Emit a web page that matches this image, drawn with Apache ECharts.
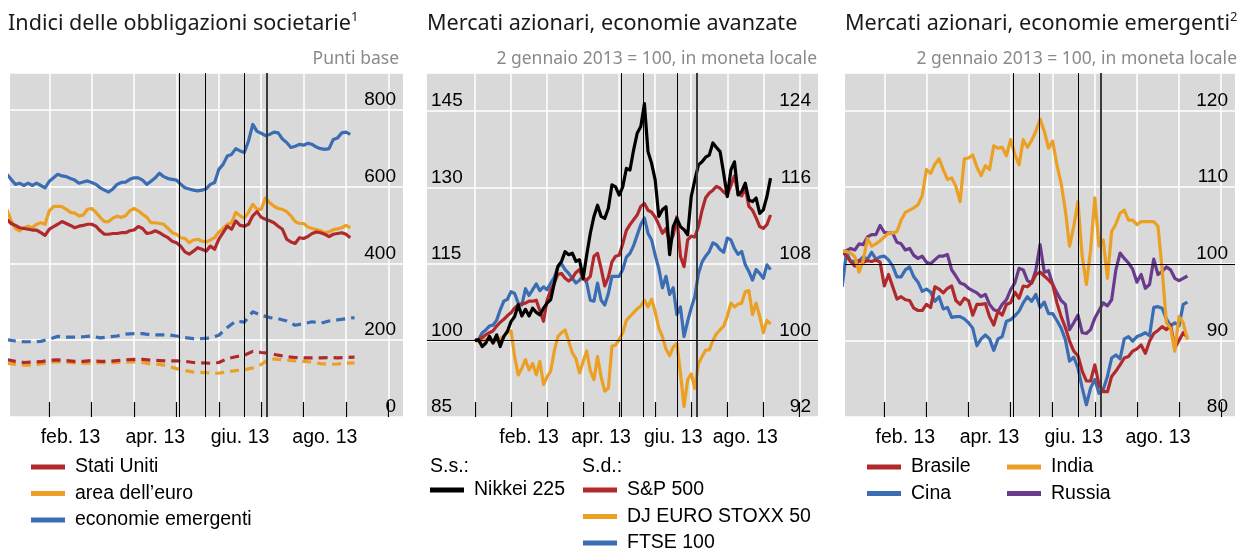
<!DOCTYPE html>
<html>
<head>
<meta charset="utf-8">
<script src="https://cdn.jsdelivr.net/npm/echarts@6/dist/echarts.min.js"></script>
<style>
  html, body { margin: 0; padding: 0; background: #fff; }
  #chart { width: 1244px; height: 548px; }
</style>
</head>
<body>
<div id="chart"></div>
<script>
// x unit = months since 1 Jan 2013 (1 = Feb 1, 2 = Mar 1, ...)
const monthTicks = [0, 1, 2, 3, 4, 5, 6, 7, 8, 9];
const monthLabelPos = [1.5, 3.5, 5.5, 7.5];
const monthLabels = ['feb. 13', 'apr. 13', 'giu. 13', 'ago. 13'];
const eventMonths = [4.07, 4.68, 5.6, 6.14];

// panel 1: corporate bond spreads (bp), solid every 0.1 month, dashed every 0.2 month
const usSolid = [515,504,499,493,491,489,487,487,480,473, 489,496,502,509,504,499,493,497,499,502,
  502,497,485,476,476,478,478,480,480,485, 487,496,491,478,480,485,480,473,467,458,
  454,445,430,424,432,441,437,432,445,437, 463,480,497,489,511,499,497,502,524,535,
  520,515,511,506,497,489,463,456,452,467, 465,470,478,482,480,476,470,476,478,480, 476,467];
const euroSolid = [541,511,491,485,493,497,493,502,506,502, 537,548,549,548,541,533,531,524,526,541,
  543,533,520,509,509,518,523,520,524,537, 543,537,528,520,506,506,504,502,491,480,
  476,467,465,454,461,463,458,456,461,467, 482,491,502,506,533,524,518,533,554,541,
  541,571,558,549,543,541,535,524,509,504, 504,495,491,488,485,480,482,488,490,493, 499,493];
const emSolid = [632,619,606,609,603,609,603,609,603,597, 614,623,632,628,626,621,617,609,612,615,
  611,606,597,591,586,594,606,611,612,619, 623,623,617,606,614,623,635,626,621,619,
  617,606,597,594,591,589,591,594,606,611, 645,658,680,684,699,693,689,719,762,744,
  739,733,736,742,740,724,715,702,705,710, 708,713,710,703,699,697,699,723,727,740, 742,736];
const usDash = [149,145,142,143,144,148,149,147,145,145, 147,145,145,147,149,150,150,148,147,146,
  146,145,142,141,140,142,152,157,161,171, 168,166,161,157,155,154,154,154,155,154, 155,156];
const euroDash = [140,137,135,135,138,142,144,143,141,140, 140,142,140,142,143,144,142,138,137,133,
  126,121,117,116,115,114,118,121,123,128, 137,152,150,148,146,145,143,139,137,138, 140,141];
const emDash = [201,198,196,196,197,203,210,208,208,209, 211,206,209,211,216,217,217,214,214,214,
  211,207,204,204,206,213,233,250,247,274, 265,259,256,250,239,243,248,244,250,253, 256,259];

// panel 2: advanced-economy equity indices, every 0.1 month
const nikkei = [100,100.1,98.8,99.5,100.8,99.5,101.1,98.8,100.8,101.8, 103.7,104.7,107.0,104.8,106.1,104.8,106.3,105.5,105.0,106.3,
  107.3,108.0,111.2,114.5,115.5,117.4,116.8,117.1,115.5,115.8, 112.2,116.8,121.0,124.3,126.5,124.3,123.9,125.9,130.5,130.1,
  128.5,130.1,133.7,133.4,137.3,140.6,141.9,146.4,137.0,134.7, 131.4,124.3,125.6,126.2,116.8,122.3,123.9,122.3,121.7,120.7,
  128.2,131.4,134.4,135.0,135.9,136.3,138.7,137.8,137.0,132.7, 128.2,133.4,135.0,128.5,129.2,130.8,127.5,127.2,127.9,124.9,
  125.6,128.2,131.8];
const sp500 = [100,100.1,100.3,100.6,100.8,101.0,101.5,101.9,102.2,102.6, 102.9,103.4,103.7,103.8,103.9,104.1,104.1,104.2,103.1,102.0,
  104.2,105.3,106.0,106.9,107.0,106.5,106.2,106.5,107.1,107.4, 106.4,106.3,106.7,108.8,109.1,107.5,105.7,106.6,108.2,108.8,
  108.9,110.1,111.5,112.1,112.6,113.1,114.0,114.3,113.6,113.4, 112.9,112.1,111.2,111.7,110.2,111.0,112.9,108.8,107.7,110.5,
  110.9,110.8,111.9,113.6,114.9,115.4,115.7,116.1,115.9,115.5, 115.2,116.2,117.2,115.3,115.1,115.9,114.0,113.6,112.8,111.9,
  111.7,112.1,113.1];
const stoxx50 = [100,99.9,100.0,100.1,100.1,99.8,100.0,100.2,100.4,100.8, 101.0,98.3,96.4,97.1,98.0,96.9,97.6,96.4,97.8,95.4,
  96.2,96.8,98.9,100.4,100.8,101.1,99.9,98.7,98.1,96.6, 97.8,98.9,96.8,95.9,98.3,96.2,94.7,95.0,99.4,99.5,
  100.1,100.8,102.1,102.5,102.9,103.3,103.6,104.2,103.5,104.3, 103.0,101.3,100.4,99.1,98.4,99.3,99.7,96.6,93.1,95.9,
  96.5,95.0,97.6,98.3,99.0,99.0,100.0,100.7,101.1,101.5, 102.5,103.9,103.5,103.8,103.9,105.1,105.2,102.7,103.9,102.5,
  100.8,102.1,101.7];
const ftse100 = [100,100.1,100.8,101.1,101.5,101.6,102.1,103.2,104.1,104.3, 105.1,104.9,103.9,103.7,105.4,104.7,105.3,105.9,105.2,105.6,
  105.3,106.0,106.6,107.7,108.0,107.4,107.0,106.5,106.0,106.3, 106.7,106.0,104.2,104.1,106.0,104.2,103.7,104.9,106.7,106.7,
  106.7,107.4,108.7,109.1,109.9,111.0,112.1,112.8,111.2,110.5, 108.9,107.5,105.5,106.7,104.8,105.5,102.7,103.5,100.4,102.0,
  103.4,104.6,107.0,108.2,108.8,109.3,110.2,110.0,109.5,109.2, 110.7,110.5,109.6,109.0,109.3,107.9,107.2,106.3,107.4,107.0,
  106.5,107.9,107.4];

// panel 3: emerging-market equity indices, every 0.1 month
const brasile = [101.6,101.0,100.3,99.7,100.4,100.2,100.4,100.3,100.5,100.2, 97.1,98.6,97.0,95.4,95.7,95.3,95.2,94.2,93.9,93.9,
  94.7,94.3,97.0,96.7,96.2,96.8,97.1,95.2,94.7,95.5, 95.2,93.3,94.7,94.7,94.8,93.1,92.0,93.8,93.3,94.7,
  94.9,96.3,95.5,97.1,97.0,97.5,98.6,98.9,98.4,97.9, 97.3,94.9,93.1,91.7,89.9,88.6,88.0,86.0,84.7,84.7,
  86.8,84.2,83.3,83.3,85.3,86.0,86.8,87.7,87.9,88.6, 88.9,89.4,88.3,89.9,90.9,91.3,91.8,91.4,92.0,89.0,
  90.0,91.0,90.4];
const cina = [97.0,101.5,100.3,100.3,100.4,100.9,100.6,101.5,100.6,100.9, 101.0,100.5,99.7,98.3,98.3,99.2,99.6,98.3,97.6,96.4,
  96.7,96.3,95.1,95.7,94.1,94.3,93.0,93.1,93.1,92.8, 92.3,91.6,89.3,90.2,90.7,90.2,88.7,90.2,90.5,92.5,
  92.7,93.2,93.8,94.9,95.7,95.1,96.0,94.3,95.0,93.5, 93.5,92.6,91.6,90.1,87.3,87.8,86.4,83.8,81.6,83.8,
  84.9,83.1,83.6,85.3,87.7,88.1,87.6,90.2,90.5,89.9, 90.5,90.7,91.0,90.6,94.3,94.4,94.2,92.8,91.9,92.3,
  91.9,94.7,95.0];
const india = [101.6,101.6,101.4,100.9,98.9,100.5,103.3,102.3,102.6,103.0, 103.5,104.0,104.0,104.2,105.7,106.7,107.0,107.3,107.7,108.9,
  112.3,111.8,113.0,113.7,112.3,111.0,111.2,110.1,108.1,113.7, 113.8,114.2,112.6,111.5,112.8,112.3,115.4,115.1,115.2,114.1,
  116.2,114.3,112.9,116.2,115.2,116.1,117.3,118.9,117.3,115.1, 116.0,112.9,110.5,107.0,102.3,104.9,108.1,101.0,97.3,101.8,
  108.6,102.3,103.1,98.1,104.2,105.2,106.6,107.0,105.7,105.7, 105.1,105.5,105.5,105.5,105.5,104.9,99.2,92.3,91.6,88.6,
  93.1,92.3,90.1];
const russia = [101.6,101.7,102.0,101.8,102.6,102.5,103.5,103.8,103.8,105.0, 104.1,104.0,104.0,102.8,102.6,101.8,102.0,101.1,100.7,101.0,
  100.2,100.0,100.5,101.0,101.0,101.2,99.2,98.4,97.5,97.3, 96.8,96.5,96.2,95.7,96.0,94.7,94.0,93.8,94.7,95.3,
  96.6,97.5,99.4,99.2,97.8,97.5,99.2,102.5,98.9,99.1, 97.3,96.2,95.2,94.7,91.4,92.3,93.3,91.0,90.9,91.4,
  92.9,93.9,94.9,94.5,95.3,99.2,101.4,100.7,100.1,99.3, 97.6,98.6,96.8,97.3,100.6,98.6,99.0,99.6,99.2,98.1,
  97.8,98.1,98.4];

const RED = '#b02a2d', ORANGE = '#eba024', BLUE = '#3a6db3', PURPLE = '#6a3b8c', BLACK = '#000';
const SANS = '"Liberation Sans", Arial, sans-serif';
const HUM = '"Noto Sans", "Open Sans", sans-serif';

function pts(arr, step) {
  return arr.map((v, i) => [+(i * step).toFixed(3), v]);
}

function eventLines(withBase) {
  const d = eventMonths.map((m, i) => ({
    xAxis: m,
    lineStyle: i === 3 ? { color: '#3a3a3a', width: 2, type: 'solid' } : { color: '#000', width: 1, type: 'solid' }
  }));
  if (withBase) d.push({ yAxis: 100, lineStyle: { color: '#000', width: 1.2, type: 'solid' } });
  return { silent: true, symbol: 'none', label: { show: false }, animation: false, data: d };
}

function line(name, data, color, xi, yi, dashed, mark) {
  const s = {
    name, type: 'line', xAxisIndex: xi, yAxisIndex: yi, data,
    showSymbol: false, symbol: 'none',
    lineStyle: { color, width: 3.2, type: dashed ? [9, 6] : 'solid', join: 'round' },
    itemStyle: { color }
  };
  if (mark) s.markLine = mark;
  return s;
}

function xAxisFor(gi, min, max) {
  return {
    type: 'value', gridIndex: gi, min, max,
    axisLine: { show: false },
    axisTick: { show: true, inside: true, length: 15, customValues: monthTicks.filter(v => v >= min && v <= max),
      lineStyle: { color: '#000', width: 1.2 } },
    splitLine: { show: true, lineStyle: { color: '#fff', width: 1.5 } },
    axisLabel: {
      customValues: monthLabelPos,
      formatter: v => { const i = monthLabelPos.indexOf(v); return i >= 0 ? monthLabels[i] : ''; },
      fontSize: 19.5, fontFamily: SANS, color: '#000', margin: 11
    }
  };
}

function yAxisFor(gi, pos, min, max, interval, ticks, split) {
  return {
    type: 'value', gridIndex: gi, position: pos, min, max, interval,
    axisLine: { show: false }, axisTick: { show: false },
    splitLine: { show: split, lineStyle: { color: '#fff', width: 1.5 } },
    axisLabel: {
      inside: true, margin: pos === 'left' ? 4 : 7, verticalAlign: 'bottom', lineHeight: 20,
      fontSize: 19, fontFamily: SANS, color: '#000',
      formatter: v => ticks.includes(v) ? String(v) : ''
    }
  };
}

const gridBase = { top: 73, height: 344, show: true, backgroundColor: '#d9d9d9', borderWidth: 0 };

function legendAt(left, top, names) {
  return {
    left, top, data: names,
    orient: 'vertical', icon: 'rect', itemWidth: 34, itemHeight: 5, itemGap: 6.5, padding: 0,
    selectedMode: false,
    textStyle: { fontSize: 19.5, fontFamily: SANS, color: '#000', lineHeight: 20, padding: [0, 0, 0, 5] }
  };
}

const titleRich = {
  a: { fontSize: 21.6, lineHeight: 26, fontFamily: HUM, color: '#1a1a1a', fontWeight: 'normal' },
  b: { fontSize: 13, lineHeight: 13, fontFamily: HUM, color: '#1a1a1a', fontWeight: 'normal', verticalAlign: 'top' }
};
const titleStyle = { fontWeight: 'normal', rich: titleRich };
const subStyle = { fontSize: 17.5, fontFamily: HUM, color: '#8a8a8a', fontWeight: 'normal' };
const headStyle = { fontSize: 19.5, fontFamily: SANS, color: '#000', fontWeight: 'normal' };

const option = {
  animation: false,
  backgroundColor: '#fff',
  title: [
    { left: 8, top: 11, padding: 0, text: '{a|Indici delle obbligazioni societarie}{b|1}', textStyle: titleStyle },
    { left: 427, top: 11, padding: 0, text: '{a|Mercati azionari, economie avanzate}', textStyle: titleStyle },
    { left: 845, top: 11, padding: 0, text: '{a|Mercati azionari, economie emergenti}{b|2}', textStyle: titleStyle },
    { right: 845, top: 50, padding: 0, text: 'Punti base', textStyle: subStyle },
    { right: 427, top: 50, padding: 0, text: '2 gennaio 2013 = 100, in moneta locale', textStyle: subStyle },
    { right: 7, top: 50, padding: 0, text: '2 gennaio 2013 = 100, in moneta locale', textStyle: subStyle },
    { left: 430, top: 457, padding: 0, text: 'S.s.:', textStyle: headStyle },
    { left: 582, top: 457, padding: 0, text: 'S.d.:', textStyle: headStyle }
  ],
  grid: [
    Object.assign({ left: 10, width: 393 }, gridBase),
    Object.assign({ left: 427, width: 391 }, gridBase),
    Object.assign({ left: 845, width: 390 }, gridBase)
  ],
  xAxis: [
    xAxisFor(0, 0.073, 9.344),
    xAxisFor(1, -1.332, 9.517),
    xAxisFor(2, 0.066, 9.33)
  ],
  yAxis: [
    yAxisFor(0, 'right', 0, 896, 200, [0, 200, 400, 600, 800], true),
    yAxisFor(1, 'left', 85, 152.4, 15, [85, 100, 115, 130, 145], true),
    yAxisFor(1, 'right', 92, 127.94, 8, [92, 100, 108, 116, 124], false),
    yAxisFor(2, 'right', 80, 124.9, 10, [80, 90, 100, 110, 120], true)
  ],
  legend: [
    legendAt(31, 457, ['Stati Uniti', 'area dell’euro', 'economie emergenti']),
    legendAt(430, 480, ['Nikkei 225']),
    legendAt(583, 480, ['S&P 500']),
    legendAt(583, 506.5, ['DJ EURO STOXX 50']),
    legendAt(583, 533, ['FTSE 100']),
    legendAt(867, 457, ['Brasile', 'Cina']),
    legendAt(1007, 457, ['India', 'Russia'])
  ],
  series: [
    line('area dell’euro (tratteggio)', pts(euroDash, 0.2), ORANGE, 0, 0, true, eventLines(false)),
    line('Stati Uniti (tratteggio)', pts(usDash, 0.2), RED, 0, 0, true),
    line('economie emergenti (tratteggio)', pts(emDash, 0.2), BLUE, 0, 0, true),
    line('economie emergenti', pts(emSolid, 0.1), BLUE, 0, 0, false),
    line('area dell’euro', pts(euroSolid, 0.1), ORANGE, 0, 0, false),
    line('Stati Uniti', pts(usSolid, 0.1), RED, 0, 0, false),

    line('FTSE 100', pts(ftse100, 0.1), BLUE, 1, 2, false, eventLines(true)),
    line('DJ EURO STOXX 50', pts(stoxx50, 0.1), ORANGE, 1, 2, false),
    line('S&P 500', pts(sp500, 0.1), RED, 1, 2, false),
    line('Nikkei 225', pts(nikkei, 0.1), BLACK, 1, 1, false),

    line('Russia', pts(russia, 0.1), PURPLE, 2, 3, false, eventLines(true)),
    line('Cina', pts(cina, 0.1), BLUE, 2, 3, false),
    line('Brasile', pts(brasile, 0.1), RED, 2, 3, false),
    line('India', pts(india, 0.1), ORANGE, 2, 3, false)
  ]
};

const chart = echarts.init(document.getElementById('chart'), null, { renderer: 'canvas' });
chart.setOption(option);
</script>
</body>
</html>
